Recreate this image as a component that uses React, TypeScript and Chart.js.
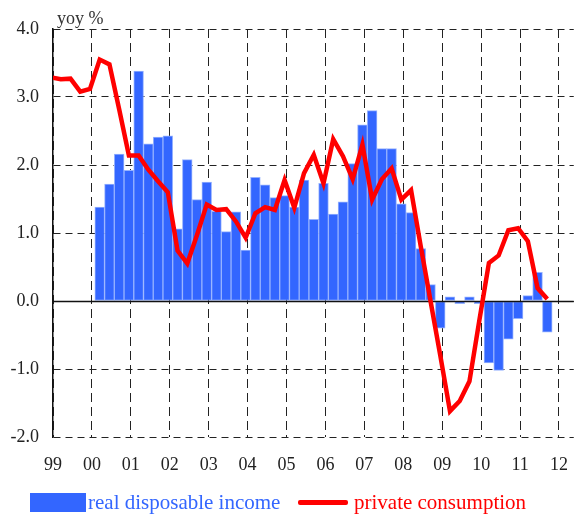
import React, { useEffect, useRef } from "react";
import { Chart, registerables } from "chart.js";

Chart.register(...registerables);

// ---- data ----
const quarters = [
  "1998Q4",
  "1999Q1", "1999Q2", "1999Q3", "1999Q4",
  "2000Q1", "2000Q2", "2000Q3", "2000Q4",
  "2001Q1", "2001Q2", "2001Q3", "2001Q4",
  "2002Q1", "2002Q2", "2002Q3", "2002Q4",
  "2003Q1", "2003Q2", "2003Q3", "2003Q4",
  "2004Q1", "2004Q2", "2004Q3", "2004Q4",
  "2005Q1", "2005Q2", "2005Q3", "2005Q4",
  "2006Q1", "2006Q2", "2006Q3", "2006Q4",
  "2007Q1", "2007Q2", "2007Q3", "2007Q4",
  "2008Q1", "2008Q2", "2008Q3", "2008Q4",
  "2009Q1", "2009Q2", "2009Q3", "2009Q4",
  "2010Q1", "2010Q2", "2010Q3", "2010Q4",
  "2011Q1", "2011Q2", "2011Q3",
];

// private consumption, yoy %, 1998Q4 .. 2011Q3
const privateConsumption = [
  3.29,
  3.26, 3.27, 3.08, 3.12,
  3.55, 3.48, 2.82, 2.14,
  2.14, 1.93, 1.76, 1.60,
  0.74, 0.55, 0.97, 1.42,
  1.34, 1.35, 1.17, 0.93,
  1.29, 1.38, 1.34, 1.78,
  1.37, 1.88, 2.15, 1.73,
  2.38, 2.13, 1.79, 2.30,
  1.49, 1.79, 1.95, 1.49,
  1.63, 0.80, 0.00, -0.80,
  -1.62, -1.47, -1.18, -0.30,
  0.56, 0.67, 1.04, 1.07,
  0.88, 0.19, 0.03,
];

// real disposable income, yoy %, 2000Q1 .. 2011Q3
const incomeStart = "2000Q1";
const realDisposableIncome = [
  1.38, 1.72, 2.16, 1.92,
  3.38, 2.31, 2.41, 2.43,
  1.06, 2.08, 1.49, 1.75,
  1.32, 1.02, 1.31, 0.75,
  1.82, 1.71, 1.52, 1.55,
  1.38, 1.78, 1.20, 1.73,
  1.28, 1.46, 2.02, 2.59,
  2.80, 2.24, 2.24, 1.43,
  1.30, 0.77, 0.24, -0.40,
  0.06, -0.04, 0.06, -0.04,
  -0.91, -1.02, -0.56, -0.26,
  0.08, 0.42, -0.46,
];

const yearTicks = [1999, 2000, 2001, 2002, 2003, 2004, 2005, 2006, 2007, 2008, 2009, 2010, 2011, 2012];
const yearLabels = ["99", "00", "01", "02", "03", "04", "05", "06", "07", "08", "09", "10", "11", "12"];
const yTicks = [-2, -1, 0, 1, 2, 3, 4];

const seriesNames = ["real disposable income", "private consumption"];
const BLUE = "#3366ff";
const RED = "#ff0000";
const FONT = "'Liberation Serif', 'DejaVu Serif', serif";

// quarter label -> position on the year axis
const qPos = (label: string) => {
  const y = parseInt(label.slice(0, 4), 10);
  const q = parseInt(label.slice(5), 10);
  return y + (q - 1) * 0.25 + 0.2;
};

const zeroLinePlugin = {
  id: "zeroLine",
  afterDatasetDraw(chart: any, args: any) {
    if (args.index !== 0) return;
    const { ctx, chartArea, scales } = chart;
    const y = Math.round(scales.y.getPixelForValue(0)) + 0.5;
    ctx.save();
    ctx.strokeStyle = "#111";
    ctx.lineWidth = 1.3;
    ctx.beginPath();
    ctx.moveTo(chartArea.left, y);
    ctx.lineTo(chartArea.right, y);
    ctx.stroke();
    ctx.restore();
  },
};

export default function App() {
  const ref = useRef<HTMLCanvasElement | null>(null);

  useEffect(() => {
    if (!ref.current) return;
    const startIdx = quarters.indexOf(incomeStart);
    const incomeData = realDisposableIncome.map((v, i) => ({ x: qPos(quarters[startIdx + i]), y: v }));
    const consData = privateConsumption.map((v, i) => ({ x: qPos(quarters[i]), y: v }));

    const chart = new Chart(ref.current, {
      type: "bar",
      data: {
        datasets: [
          {
            type: "bar",
            label: seriesNames[0],
            data: incomeData as any,
            backgroundColor: BLUE,
            borderColor: "rgba(150,178,255,1)",
            borderWidth: 1,
            borderSkipped: false,
            barPercentage: 1,
            categoryPercentage: 1,
            order: 2,
          },
          {
            type: "line",
            label: seriesNames[1],
            data: consData as any,
            borderColor: RED,
            borderWidth: 4.5,
            pointRadius: 0,
            tension: 0,
            borderJoinStyle: "miter",
            order: 1,
          },
        ],
      },
      options: {
        animation: false,
        responsive: false,
        maintainAspectRatio: false,
        layout: { padding: { top: 29, right: 1, left: 0, bottom: 0 } },
        plugins: { legend: { display: false }, tooltip: { enabled: false } },
        scales: {
          x: {
            type: "linear",
            offset: false,
            min: 1999,
            max: 2012.38,
            afterBuildTicks: (s: any) => {
              s.ticks = yearTicks.map((v) => ({ value: v }));
            },
            afterFit: (s: any) => {
              s.height = 79;
            },
            ticks: {
              autoSkip: false,
              maxRotation: 0,
              padding: 17,
              color: "#222",
              font: { family: FONT, size: 18 },
              callback: (v: any) => {
                const i = yearTicks.indexOf(Number(v));
                return i >= 0 ? yearLabels[i] : null;
              },
            },
            grid: { color: "#222", lineWidth: 1, drawTicks: false, offset: false },
            border: { display: false, dash: [9, 5] },
          },
          y: {
            type: "linear",
            min: -2,
            max: 4,
            afterBuildTicks: (s: any) => {
              s.ticks = yTicks.map((v) => ({ value: v }));
            },
            afterFit: (s: any) => {
              s.width = 53;
            },
            ticks: {
              padding: 14,
              color: "#222",
              font: { family: FONT, size: 18 },
              callback: (v: any) => Number(v).toFixed(1),
            },
            grid: { color: "#222", lineWidth: 1, drawTicks: false },
            border: { display: true, color: "#111", width: 1.5, dash: [7, 5] },
          },
        },
      },
      plugins: [zeroLinePlugin],
    });
    return () => chart.destroy();
  }, []);

  return (
    <div style={{ position: "fixed", left: 0, top: 0, width: 585, height: 516, background: "#fff", fontFamily: FONT }}>
      <canvas ref={ref} width={585} height={516} style={{ position: "absolute", left: 0, top: 0, width: 585, height: 516 }} />
      <div style={{ position: "absolute", left: 57, top: 8, fontSize: 18, color: "#333", lineHeight: "20px" }}>yoy %</div>
      <div style={{ position: "absolute", left: 30, top: 493, width: 56, height: 19, background: BLUE }} />
      <div style={{ position: "absolute", left: 88, top: 490, fontSize: 21, color: BLUE, lineHeight: "24px", whiteSpace: "nowrap" }}>
        {seriesNames[0]}
      </div>
      <div style={{ position: "absolute", left: 298, top: 500, width: 50, height: 5, background: RED, borderRadius: 2 }} />
      <div style={{ position: "absolute", left: 354, top: 490, fontSize: 21, color: RED, lineHeight: "24px", whiteSpace: "nowrap" }}>
        {seriesNames[1]}
      </div>
    </div>
  );
}
